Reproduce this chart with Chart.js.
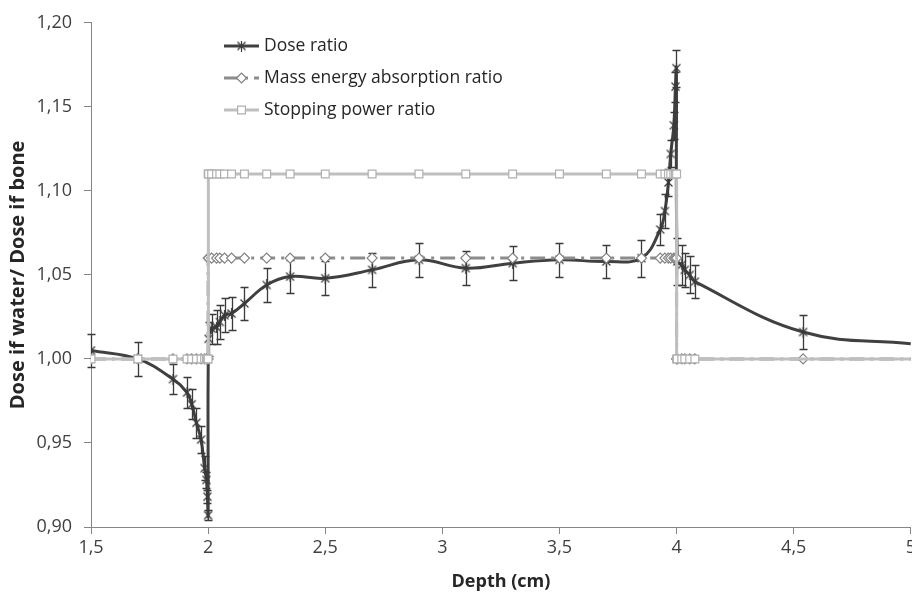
<!DOCTYPE html>
<html>
<head>
<meta charset="utf-8">
<script src="https://cdn.jsdelivr.net/npm/chart.js@4.4.0/dist/chart.umd.min.js"></script>
<style>
  html, body { margin: 0; padding: 0; background: #fff; overflow: hidden; }
  #wrap { width: 912px; height: 592px; overflow: hidden; }
</style>
</head>
<body>
<div id="wrap"><canvas id="doseChart" width="919" height="592"></canvas></div>
<script>
// Dose ratio (water / bone) with its error bars
var doseDepth = [1.5, 1.7, 1.85, 1.91, 1.93, 1.95, 1.97, 1.985, 1.993, 1.997, 2.0,
                 2.002, 2.015, 2.036, 2.05, 2.07, 2.1, 2.155, 2.25, 2.35,
                 2.5, 2.7, 2.9, 3.1, 3.3, 3.5, 3.7, 3.85,
                 3.93, 3.95, 3.965, 3.975, 3.988, 3.995, 3.999,
                 4.003, 4.022, 4.035, 4.056, 4.078,
                 4.54, 5.0];
var doseRatio = [1.005, 1.000, 0.988, 0.980, 0.973, 0.962, 0.952, 0.935, 0.928, 0.918, 0.907,
                 1.012, 1.018, 1.019, 1.022, 1.026, 1.027, 1.033, 1.044, 1.049,
                 1.048, 1.053, 1.059, 1.054, 1.057, 1.059, 1.058, 1.060,
                 1.077, 1.088, 1.105, 1.122, 1.139, 1.162, 1.173,
                 1.058, 1.056, 1.053, 1.050, 1.046,
                 1.016, 1.009];
var doseError = [0.010, 0.010, 0.009, 0.009, 0.009, 0.009, 0.008, 0.007, 0.005, 0.004, 0.003,
                 0.010, 0.009, 0.010, 0.010, 0.010, 0.010, 0.010, 0.010, 0.010,
                 0.010, 0.010, 0.010, 0.010, 0.010, 0.010, 0.010, 0.011,
                 0.009, 0.010, 0.008, 0.008, 0.008, 0.009, 0.011,
                 0.014, 0.012, 0.010, 0.011, 0.010,
                 0.010, 0];

// Mass energy absorption ratio (step at 2 cm and 4 cm)
var massDepth = [1.5, 1.7, 1.85, 1.91, 1.93, 1.95, 1.97, 1.985, 1.993, 1.997, 2.0,
                 2.0, 2.002, 2.015, 2.036, 2.05, 2.07, 2.1, 2.155, 2.25, 2.35,
                 2.5, 2.7, 2.9, 3.1, 3.3, 3.5, 3.7, 3.85,
                 3.93, 3.95, 3.965, 3.975, 3.988, 3.995, 4.0,
                 4.0, 4.003, 4.022, 4.035, 4.056, 4.078, 4.54, 5.0];
var massRatio = [1.00, 1.00, 1.00, 1.00, 1.00, 1.00, 1.00, 1.00, 1.00, 1.00, 1.00,
                 1.06, 1.06, 1.06, 1.06, 1.06, 1.06, 1.06, 1.06, 1.06, 1.06,
                 1.06, 1.06, 1.06, 1.06, 1.06, 1.06, 1.06, 1.06,
                 1.06, 1.06, 1.06, 1.06, 1.06, 1.06, 1.06,
                 1.00, 1.00, 1.00, 1.00, 1.00, 1.00, 1.00, 1.00];

// Stopping power ratio
var stopDepth = [1.5, 1.7, 1.85, 1.91, 1.93, 1.95, 1.97, 1.985, 1.993, 1.997, 2.0,
                 2.0, 2.002, 2.015, 2.036, 2.05, 2.07, 2.1, 2.155, 2.25, 2.35,
                 2.5, 2.7, 2.9, 3.1, 3.3, 3.5, 3.7, 3.85,
                 3.93, 3.95, 3.965, 3.975, 3.988, 3.995, 4.0,
                 4.0, 4.003, 4.022, 4.035, 4.056, 4.078, 5.0];
var stopRatio = [1.00, 1.00, 1.00, 1.00, 1.00, 1.00, 1.00, 1.00, 1.00, 1.00, 1.00,
                 1.11, 1.11, 1.11, 1.11, 1.11, 1.11, 1.11, 1.11, 1.11, 1.11,
                 1.11, 1.11, 1.11, 1.11, 1.11, 1.11, 1.11, 1.11,
                 1.11, 1.11, 1.11, 1.11, 1.11, 1.11, 1.11,
                 1.00, 1.00, 1.00, 1.00, 1.00, 1.00, 1.00];

var seriesNames = ['Dose ratio', 'Mass energy absorption ratio', 'Stopping power ratio'];
var xTicks = [1.5, 2, 2.5, 3, 3.5, 4, 4.5, 5];
var yTicks = [0.90, 0.95, 1.00, 1.05, 1.10, 1.15, 1.20];

function toPoints(xs, ys) {
    return xs.map(function (x, i) { return { x: x, y: ys[i] }; });
}

// asterisk marker (x with a vertical bar)
function starMarker(color) {
    var c = document.createElement('canvas');
    c.width = 11; c.height = 11;
    var g = c.getContext('2d');
    g.strokeStyle = color;
    g.lineWidth = 1.2;
    g.beginPath();
    g.moveTo(1.5, 1.5); g.lineTo(9.5, 9.5);
    g.moveTo(9.5, 1.5); g.lineTo(1.5, 9.5);
    g.moveTo(5.5, 0); g.lineTo(5.5, 11);
    g.stroke();
    return c;
}

// hide the marker of the last point (it sits on the right border)
function hideLast(r) {
    return function (c) { return c.dataIndex === c.dataset.data.length - 1 ? 0 : r; };
}

var errorBars = {
    id: 'errorBars',
    afterDatasetDraw: function (chart, args) {
        if (args.index !== 0) return;
        var ctx = chart.ctx, xs = chart.scales.x, ys = chart.scales.y;
        ctx.save();
        ctx.strokeStyle = '#3a3a3a';
        ctx.lineWidth = 1.3;
        doseDepth.forEach(function (d, i) {
            var e = doseError[i];
            if (!e) return;
            var px = Math.round(xs.getPixelForValue(d)) + 0.5;
            var top = Math.round(ys.getPixelForValue(doseRatio[i] + e)) + 0.5;
            var bot = Math.round(ys.getPixelForValue(doseRatio[i] - e)) + 0.5;
            ctx.beginPath();
            ctx.moveTo(px, top); ctx.lineTo(px, bot);
            ctx.moveTo(px - 4, top); ctx.lineTo(px + 4, top);
            ctx.moveTo(px - 4, bot); ctx.lineTo(px + 4, bot);
            ctx.stroke();
        });
        ctx.restore();
    }
};

// legend drawn inside the plot, top left
var innerLegend = {
    id: 'innerLegend',
    afterDraw: function (chart) {
        var ctx = chart.ctx;
        var x0 = 224, x1 = 259, ys = [46, 78, 110];
        chart.data.datasets.forEach(function (ds, i) {
            var y = ys[i];
            ctx.save();
            ctx.strokeStyle = ds.borderColor;
            ctx.lineWidth = ds.borderWidth;
            ctx.setLineDash(ds.borderDash || []);
            ctx.beginPath();
            ctx.moveTo(x0, y); ctx.lineTo(x1, y);
            ctx.stroke();
            ctx.setLineDash([]);
            ctx.fillStyle = ds.pointBackgroundColor;
            ctx.strokeStyle = ds.pointBorderColor;
            ctx.lineWidth = ds.pointBorderWidth;
            Chart.helpers.drawPoint(ctx, {
                pointStyle: ds.pointStyle, radius: ds.legendRadius,
                rotation: 0, borderWidth: ds.pointBorderWidth
            }, (x0 + x1) / 2, y);
            ctx.fillStyle = '#262626';
            ctx.font = "17.5px 'Open Sans'";
            ctx.textBaseline = 'middle';
            ctx.fillText(seriesNames[i], 264, y);
            ctx.restore();
        });
    }
};

Chart.defaults.font.family = "'Open Sans', sans-serif";

var ctx = document.getElementById('doseChart').getContext('2d');
var myChart = new Chart(ctx, {
    type: 'line',
    data: {
        datasets: [{
            label: seriesNames[0],
            data: toPoints(doseDepth, doseRatio),
            borderColor: '#404040',
            borderWidth: 3,
            tension: 0.4,
            pointStyle: starMarker('#3a3a3a'),
            pointRadius: hideLast(4),
            pointBackgroundColor: '#3a3a3a',
            pointBorderColor: '#3a3a3a',
            pointBorderWidth: 1.2,
            legendRadius: 4,
            order: 3
        }, {
            label: seriesNames[1],
            data: toPoints(massDepth, massRatio),
            borderColor: '#8c8c8c',
            borderWidth: 3,
            borderDash: [15, 6, 3, 6],
            tension: 0,
            pointStyle: 'rectRot',
            pointRadius: hideLast(5),
            pointBackgroundColor: '#ffffff',
            pointBorderColor: '#808080',
            pointBorderWidth: 1.2,
            legendRadius: 5,
            order: 2
        }, {
            label: seriesNames[2],
            data: toPoints(stopDepth, stopRatio),
            borderColor: '#bfbfbf',
            borderWidth: 3,
            tension: 0,
            pointStyle: 'rect',
            pointRadius: hideLast(5.5),
            pointBackgroundColor: '#ffffff',
            pointBorderColor: '#b0b0b0',
            pointBorderWidth: 1.2,
            legendRadius: 5.5,
            order: 1
        }]
    },
    options: {
        responsive: false,
        animation: false,
        events: [],
        layout: { padding: { top: 18, right: 0, bottom: 0, left: 0 } },
        plugins: {
            legend: { display: false },
            tooltip: { enabled: false }
        },
        scales: {
            x: {
                type: 'linear',
                min: 1.5,
                max: 5,
                afterBuildTicks: function (s) { s.ticks = xTicks.map(function (v) { return { value: v }; }); },
                afterFit: function (s) { s.height = 65; },
                ticks: {
                    font: { size: 18 },
                    color: '#404040',
                    padding: 3,
                    maxRotation: 0,
                    callback: function (v) { return String(v).replace('.', ','); }
                },
                grid: { drawOnChartArea: false, tickLength: 7, color: '#868686' },
                border: { color: '#868686' },
                title: {
                    display: true,
                    text: 'Depth (cm)',
                    color: '#262626',
                    font: { size: 18, weight: 'bold', lineHeight: 1 },
                    padding: { top: 0, bottom: 1 }
                }
            },
            y: {
                min: 0.9,
                max: 1.2,
                afterBuildTicks: function (s) { s.ticks = yTicks.map(function (v) { return { value: v }; }); },
                afterFit: function (s) { s.width = 91; },
                ticks: {
                    font: { size: 18 },
                    color: '#404040',
                    padding: 12,
                    callback: function (v) { return v.toFixed(2).replace('.', ','); }
                },
                grid: { drawOnChartArea: false, tickLength: 7, color: '#868686' },
                border: { color: '#868686' },
                title: {
                    display: true,
                    text: 'Dose if water/ Dose if bone',
                    color: '#262626',
                    font: { size: 20, weight: 'bold', lineHeight: 1.2 },
                    padding: { top: 6, bottom: 0 }
                }
            }
        }
    },
    plugins: [errorBars, innerLegend]
});
</script>
</body>
</html>
